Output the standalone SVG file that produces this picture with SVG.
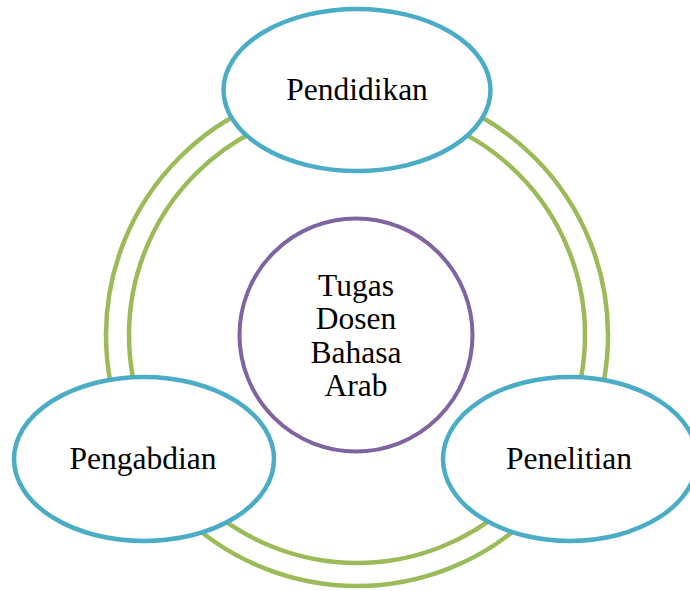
<svg xmlns="http://www.w3.org/2000/svg" width="690" height="591" viewBox="0 0 690 591">
<style>
.ring{fill:none;stroke:#9BBB59;stroke-width:4.5}
.node{fill:#fff;stroke:#4BACC6;stroke-width:4.5}
.center{fill:#fff;stroke:#8064A2;stroke-width:4}
text{font-family:"Liberation Serif","Times New Roman",serif;font-size:31.5px;fill:#000;text-anchor:middle}
</style>
<rect width="690" height="591" fill="#fff"/>
<g id="connectors">
<circle class="ring" cx="357" cy="335" r="251"/>
<circle class="ring" cx="357" cy="335" r="228"/>
</g>
<g id="center">
<circle class="center" cx="356" cy="335" r="116.5"/>
<text x="356" y="296">Tugas</text>
<text x="356" y="329">Dosen</text>
<text x="356" y="363">Bahasa</text>
<text x="356" y="396">Arab</text>
</g>
<g id="pendidikan">
<ellipse class="node" cx="357" cy="90" rx="133.5" ry="81"/>
<text x="357" y="100">Pendidikan</text>
</g>
<g id="pengabdian">
<ellipse class="node" cx="144" cy="459" rx="130" ry="82"/>
<text x="143" y="469">Pengabdian</text>
</g>
<g id="penelitian">
<ellipse class="node" cx="570" cy="459" rx="127" ry="82"/>
<text x="569" y="469">Penelitian</text>
</g>
</svg>
